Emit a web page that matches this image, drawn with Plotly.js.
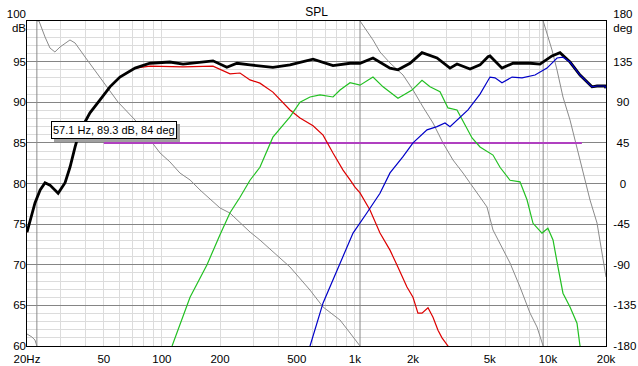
<!DOCTYPE html>
<html>
<head>
<meta charset="utf-8">
<script src="https://cdn.plot.ly/plotly-3.0.1.min.js"></script>
<style>
  html, body { margin: 0; padding: 0; background: #ffffff; }
  #chart { width: 638px; height: 366px; }
</style>
</head>
<body>
<div id="chart"></div>
<script>
// ---------- DATA ----------
// Total response (black)
const totalFreq = [20, 22.0, 23.4, 24.8, 26.3, 29.0, 31.5, 33.4, 35.5, 37.6, 40, 42.4, 47.8, 53.8, 60.6, 72.6, 86.8, 110, 128.7, 183.9, 217, 245, 286, 376, 461, 607, 770, 944, 1063, 1241, 1520, 1672, 1930, 2227, 2663, 3110, 3381, 3950, 4450, 4894, 5012, 5783, 6597, 8077, 9098, 10500, 11550, 13020, 14670, 16930, 17970, 19760, 20000];
const totalSPL  = [74.0, 77.6, 79.2, 80.1, 79.8, 78.8, 80.1, 82.0, 84.5, 86.6, 87.6, 88.7, 90.3, 91.9, 93.1, 94.2, 94.8, 94.95, 94.7, 95.1, 94.3, 94.8, 94.6, 94.3, 94.6, 95.3, 94.5, 94.8, 94.8, 95.45, 94.2, 94.0, 94.8, 96.1, 95.45, 94.2, 94.7, 94.1, 94.6, 95.6, 95.7, 94.2, 94.8, 94.8, 94.7, 95.7, 96.1, 94.95, 93.35, 91.9, 92.0, 92.0, 91.75];

// Woofer (red)
const wooferFreq = [20, 22.0, 23.4, 24.8, 26.3, 29.0, 31.5, 33.4, 35.5, 37.6, 40, 42.4, 47.8, 53.8, 60.6, 72.6, 86.8, 128.7, 183.9, 204.8, 225.4, 253.9, 286, 322, 376, 461, 519.5, 607, 684, 770, 868, 944, 1001, 1063, 1197, 1349, 1520, 1672, 1861, 2000, 2122, 2227, 2392, 2539, 2695, 2827, 3036, 3200];
const wooferSPL  = [74.0, 77.6, 79.2, 80.1, 79.8, 78.8, 80.1, 82.0, 84.5, 86.6, 87.6, 88.7, 90.3, 91.9, 93.1, 94.2, 94.45, 94.35, 94.45, 93.95, 93.5, 93.6, 92.75, 92.35, 91.25, 89.05, 88.05, 87.1, 85.95, 83.75, 81.65, 80.45, 79.55, 78.85, 76.75, 73.9, 71.8, 69.7, 67.25, 66.0, 64.05, 64.05, 64.7, 63.55, 61.95, 61.0, 60.0, 59.0];

// Midrange (green)
const midFreq = [105, 112.9, 139.9, 171.3, 200, 225.4, 253.9, 286, 322, 376, 461, 519.5, 585.5, 659.6, 770.4, 837.5, 944, 1063, 1241, 1399, 1672, 1976, 2227, 2450, 2760, 3036, 3381, 4046, 4450, 5012, 5194, 5647, 6365, 7169, 7793, 8373, 9319, 10000, 10630, 11280, 11970, 13020, 14150, 14670, 15200];
const midSPL  = [58.5, 60.0, 66.0, 70.0, 73.7, 76.4, 78.3, 80.4, 82.0, 85.7, 88.2, 90.0, 90.65, 90.9, 90.65, 91.5, 92.4, 92.1, 93.1, 91.9, 90.5, 91.5, 92.7, 91.9, 91.3, 89.3, 89.05, 85.6, 84.5, 83.75, 83.5, 82.0, 80.4, 80.2, 78.0, 75.1, 73.9, 74.5, 73.05, 69.7, 66.5, 64.8, 62.8, 60.0, 58.5];

// Tweeter (blue)
const tweeterFreq = [550, 585.5, 684, 837.5, 978, 1155, 1349, 1520, 1775, 2000, 2364, 2663, 2930, 3110, 3503, 3855, 4450, 5012, 5320, 5783, 6519, 7343, 8575, 9893, 11150, 11970, 13020, 14670, 16930, 17970, 19760, 20000];
const tweeterSPL  = [58.0, 60.0, 65.3, 70.2, 73.9, 76.4, 78.8, 81.3, 83.3, 85.0, 86.6, 87.0, 87.45, 87.0, 88.2, 89.05, 91.0, 93.1, 93.0, 92.4, 93.1, 93.0, 93.35, 94.2, 95.45, 95.55, 94.95, 93.35, 91.9, 92.0, 92.0, 91.75];

// Total phase (grey, right axis, wrapped to +-180 deg)
const phaseFreq = [20, 21.2, 22.0, 22.5, 22.5, 23.07, 24.8, 26.3, 27.9, 29.65, 33.4, 35.5, 40.0, 47.8, 59.2, 72.6, 88, 97.8, 110, 124, 140, 157.6, 200, 225, 286, 322, 461, 585, 684, 837, 944, 1063, 1063, 1241, 1349, 1520, 1775, 2000, 2254, 2539, 2861, 3223, 3632, 4094, 4450, 4836, 5194, 5853, 6365, 7169, 8077, 8783, 9450, 9450, 10500, 11150, 11970, 13020, 14150, 15200, 16530, 17970, 19290, 20000];
const phaseDeg  = [-166.7, -170, -173.4, -180, 180, 180, 162.3, 150.1, 145.7, 151.2, 159.0, 155.6, 140.1, 118.0, 90.3, 70.3, 46.5, 33.8, 24, 11.6, 3.9, -7.2, -27.1, -32.7, -53.7, -62.6, -92.5, -118.0, -136.8, -151.2, -165.6, -180, 180, 159.0, 145.7, 133.5, 120.2, 103.6, 84.7, 67.0, 44.9, 26.0, 11.6, -3.9, -15.0, -26.0, -51.5, -73.7, -88.1, -114.6, -143.5, -159.0, -180, 180, 147.9, 125.7, 95.8, 70.3, 40.4, 11.6, -18.3, -43.8, -81.4, -103.6];

// Target level line (magenta)
const targetFreq = [50, 15000];
const targetSPL  = [85, 85];

// Axis ticks / labels
const freqGrid = [20, 30, 40, 50, 60, 70, 80, 90, 100, 200, 300, 400, 500, 600, 700, 800, 900, 1000, 2000, 3000, 4000, 5000, 6000, 7000, 8000, 9000, 10000, 20000];
const freqLabelVals = [20, 50, 100, 200, 500, 1000, 2000, 5000, 10000, 20000];
const freqLabelText = ['20Hz', '50', '100', '200', '500', '1k', '2k', '5k', '10k', '20k'];
const decadeVals = [100, 1000, 10000];
const splTickVals = [60, 65, 70, 75, 80, 85, 90, 95, 100];
const splTickText = ['60', '65', '70', '75', '80', '85', '90', '95', '100<br>dB'];
const phaseTickVals = [-180, -135, -90, -45, 0, 45, 90, 135, 180];
const phaseTickText = ['-180', '-135', '-90', '-45', '\u00a0\u00a00', '\u00a045', '\u00a090', '135', '180<br>deg'];
const titleText = 'SPL';
const cursorText = '57.1 Hz, 89.3 dB, 84 deg';

// ---------- STYLE ----------
const FONT = 'Liberation Sans, Arial, sans-serif';
const LIGHT = '#dcdcdc';
const DARK = '#858585';

const xTickText = freqGrid.map(v => {
  const i = freqLabelVals.indexOf(v);
  return i >= 0 ? freqLabelText[i] : '';
});

const traces = [
  { x: phaseFreq, y: phaseDeg, xaxis: 'x', yaxis: 'y', mode: 'lines',
    line: { color: '#8a8a8a', width: 1 }, hoverinfo: 'skip' },
  { x: targetFreq, y: targetSPL, xaxis: 'x', yaxis: 'y2', mode: 'lines',
    line: { color: '#b040c0', width: 2 }, hoverinfo: 'skip' },
  { x: wooferFreq, y: wooferSPL, xaxis: 'x', yaxis: 'y2', mode: 'lines',
    line: { color: '#dd0000', width: 1.2 }, hoverinfo: 'skip' },
  { x: midFreq, y: midSPL, xaxis: 'x', yaxis: 'y2', mode: 'lines',
    line: { color: '#22c022', width: 1.2 }, hoverinfo: 'skip' },
  { x: totalFreq, y: totalSPL, xaxis: 'x', yaxis: 'y2', mode: 'lines',
    line: { color: '#000000', width: 2.8 }, hoverinfo: 'skip' },
  { x: tweeterFreq, y: tweeterSPL, xaxis: 'x', yaxis: 'y2', mode: 'lines',
    line: { color: '#0000c8', width: 1.2 }, hoverinfo: 'skip' }
];

const tickFont = { family: FONT, size: 11.5, color: '#000000' };
const xRange = [Math.log10(20), Math.log10(20000)];

// cursor read-out box: pixel placement (plot area 27..606 x 21..346) in paper units
const PW = 579, PH = 325;
const boxLeftPx = 51, boxTopPx = 121, boxW = 126, boxH = 18;
const toPx = v => (v - 27) / PW, toPy = v => (346 - v) / PH;

const layout = {
  width: 638, height: 366,
  margin: { l: 27, r: 32, t: 21, b: 20, pad: 0 },
  paper_bgcolor: '#ffffff', plot_bgcolor: '#ffffff',
  showlegend: false, hovermode: false,
  font: { family: FONT, size: 12, color: '#000000' },
  title: { text: titleText, font: { family: FONT, size: 12, color: '#000000' },
           x: 0.5, xref: 'paper', xanchor: 'center', y: 1 - 12 / 366, yref: 'container', yanchor: 'middle' },
  xaxis: {
    type: 'log', range: xRange, tickmode: 'array', tickvals: freqGrid, ticktext: xTickText,
    showgrid: true, gridcolor: LIGHT, gridwidth: 1, ticks: '', zeroline: false,
    showline: true, linecolor: '#000000', linewidth: 1, mirror: true,
    tickfont: tickFont, ticklabelstandoff: 2, fixedrange: true
  },
  xaxis2: {
    type: 'log', range: xRange, overlaying: 'x', anchor: 'y', side: 'bottom',
    tickmode: 'array', tickvals: decadeVals, showticklabels: false,
    showgrid: true, gridcolor: DARK, gridwidth: 1, ticks: '', zeroline: false, showline: false, fixedrange: true
  },
  yaxis: {
    range: [-180, 180], side: 'right', anchor: 'x',
    tickmode: 'array', tickvals: phaseTickVals, ticktext: phaseTickText,
    showgrid: true, gridcolor: DARK, gridwidth: 1,
    minor: { tickmode: 'linear', tick0: -180, dtick: 9, showgrid: true, gridcolor: LIGHT, gridwidth: 1, ticks: '' },
    ticks: '', zeroline: false, showline: true, linecolor: '#000000', linewidth: 1, mirror: true,
    tickfont: tickFont, ticklabelstandoff: 4, fixedrange: true
  },
  yaxis2: {
    range: [60, 100], overlaying: 'y', side: 'left', anchor: 'x',
    tickmode: 'array', tickvals: splTickVals, ticktext: splTickText,
    showgrid: false, ticks: '', zeroline: false, showline: false,
    tickfont: tickFont, fixedrange: true
  },
  shapes: [
    { type: 'rect', xref: 'paper', yref: 'paper', layer: 'above',
      x0: toPx(boxLeftPx + 3), x1: toPx(boxLeftPx + boxW + 3),
      y0: toPy(boxTopPx + boxH + 3), y1: toPy(boxTopPx + 3),
      fillcolor: '#a0a0a0', line: { width: 0 } }
  ],
  annotations: [
    { xref: 'paper', yref: 'paper', x: toPx(boxLeftPx), y: toPy(boxTopPx), xanchor: 'left', yanchor: 'top',
      text: cursorText, showarrow: false, align: 'left',
      width: boxW - 4, height: boxH - 4,
      font: { family: FONT, size: 11, color: '#000000' },
      bgcolor: '#ffffff', bordercolor: '#000000', borderwidth: 1, borderpad: 1 }
  ]
};

Plotly.newPlot('chart', traces, layout, { staticPlot: true, displayModeBar: false });
</script>
</body>
</html>
